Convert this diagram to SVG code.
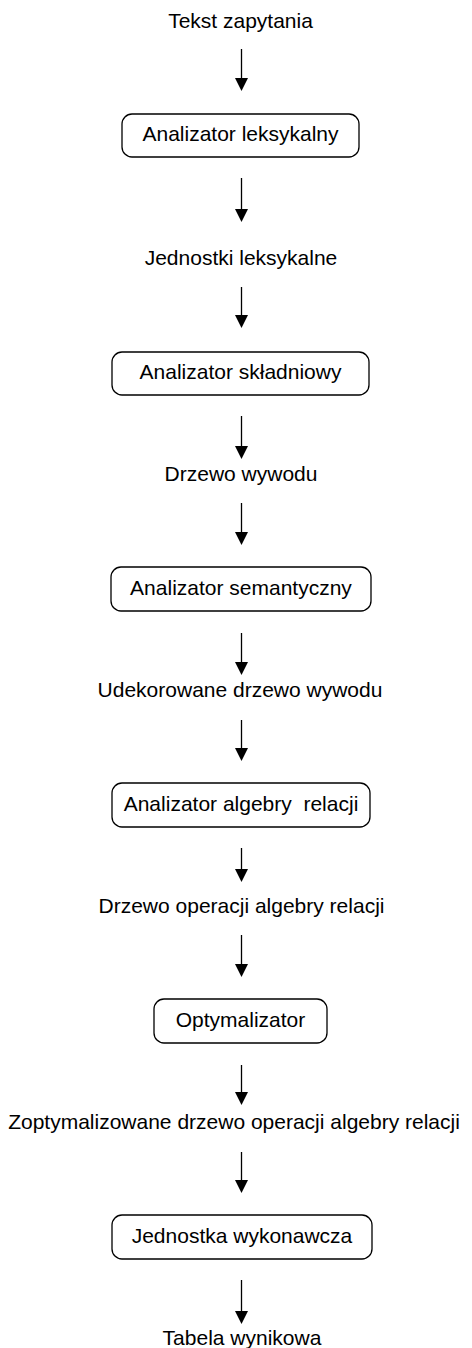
<svg xmlns="http://www.w3.org/2000/svg" width="472" height="1348" viewBox="0 0 472 1348">
  <style>
    text { font-family: "Liberation Sans", Arial, sans-serif; font-size: 21px; fill: #000; text-anchor: middle; white-space: pre; }
    .box { fill: #fff; stroke: #000; stroke-width: 1.3; }
    .flow { stroke: #000; stroke-width: 1.3; fill: none; marker-end: url(#head); }
  </style>
  <defs>
    <marker id="head" viewBox="0 0 13 13" markerWidth="13" markerHeight="13" markerUnits="userSpaceOnUse" refX="3" refY="6.5" orient="auto">
      <path d="M0,0 L13,6.5 L0,13 z" fill="#000"/>
    </marker>
  </defs>
  <rect width="472" height="1348" fill="#fff"/>

  <!-- flow arrows between stages -->
  <g id="connectors">
    <line class="flow" x1="241.5" y1="49" x2="241.5" y2="81"/>
    <line class="flow" x1="241.5" y1="178" x2="241.5" y2="212"/>
    <line class="flow" x1="241.5" y1="287" x2="241.5" y2="318"/>
    <line class="flow" x1="241.5" y1="416" x2="241.5" y2="449"/>
    <line class="flow" x1="241.5" y1="503" x2="241.5" y2="535"/>
    <line class="flow" x1="241.5" y1="633" x2="241.5" y2="665"/>
    <line class="flow" x1="241.5" y1="720" x2="241.5" y2="751"/>
    <line class="flow" x1="241.5" y1="848" x2="241.5" y2="872"/>
    <line class="flow" x1="241.5" y1="935" x2="241.5" y2="967"/>
    <line class="flow" x1="241.5" y1="1065" x2="241.5" y2="1095"/>
    <line class="flow" x1="241.5" y1="1152" x2="241.5" y2="1183"/>
    <line class="flow" x1="241.5" y1="1280" x2="241.5" y2="1314"/>
  </g>

  <!-- data items -->
  <g id="query-text"><text x="240.5" y="28">Tekst zapytania</text></g>
  <g id="lexical-units"><text x="241" y="265">Jednostki leksykalne</text></g>
  <g id="parse-tree"><text x="241" y="481">Drzewo wywodu</text></g>
  <g id="decorated-tree"><text x="240" y="697">Udekorowane drzewo wywodu</text></g>
  <g id="algebra-tree"><text x="241.5" y="913">Drzewo operacji algebry relacji</text></g>
  <g id="optimized-tree"><text x="234" y="1129">Zoptymalizowane drzewo operacji algebry relacji</text></g>
  <g id="result-table"><text x="242" y="1345">Tabela wynikowa</text></g>

  <!-- processing stages -->
  <g id="lexer">
    <rect class="box" x="122" y="114" width="237" height="43" rx="10"/>
    <text x="240.5" y="141">Analizator leksykalny</text>
  </g>
  <g id="parser">
    <rect class="box" x="112" y="352" width="257" height="43" rx="10"/>
    <text x="240.5" y="379">Analizator składniowy</text>
  </g>
  <g id="semantic">
    <rect class="box" x="111" y="567" width="260" height="44" rx="10"/>
    <text x="241" y="595">Analizator semantyczny</text>
  </g>
  <g id="algebra">
    <rect class="box" x="112" y="783" width="258" height="44" rx="10"/>
    <text x="241" y="811">Analizator algebry  relacji</text>
  </g>
  <g id="optimizer">
    <rect class="box" x="154" y="999" width="173" height="44" rx="10"/>
    <text x="240.5" y="1027">Optymalizator</text>
  </g>
  <g id="executor">
    <rect class="box" x="112" y="1215" width="260" height="44" rx="10"/>
    <text x="242" y="1243">Jednostka wykonawcza</text>
  </g>
</svg>
